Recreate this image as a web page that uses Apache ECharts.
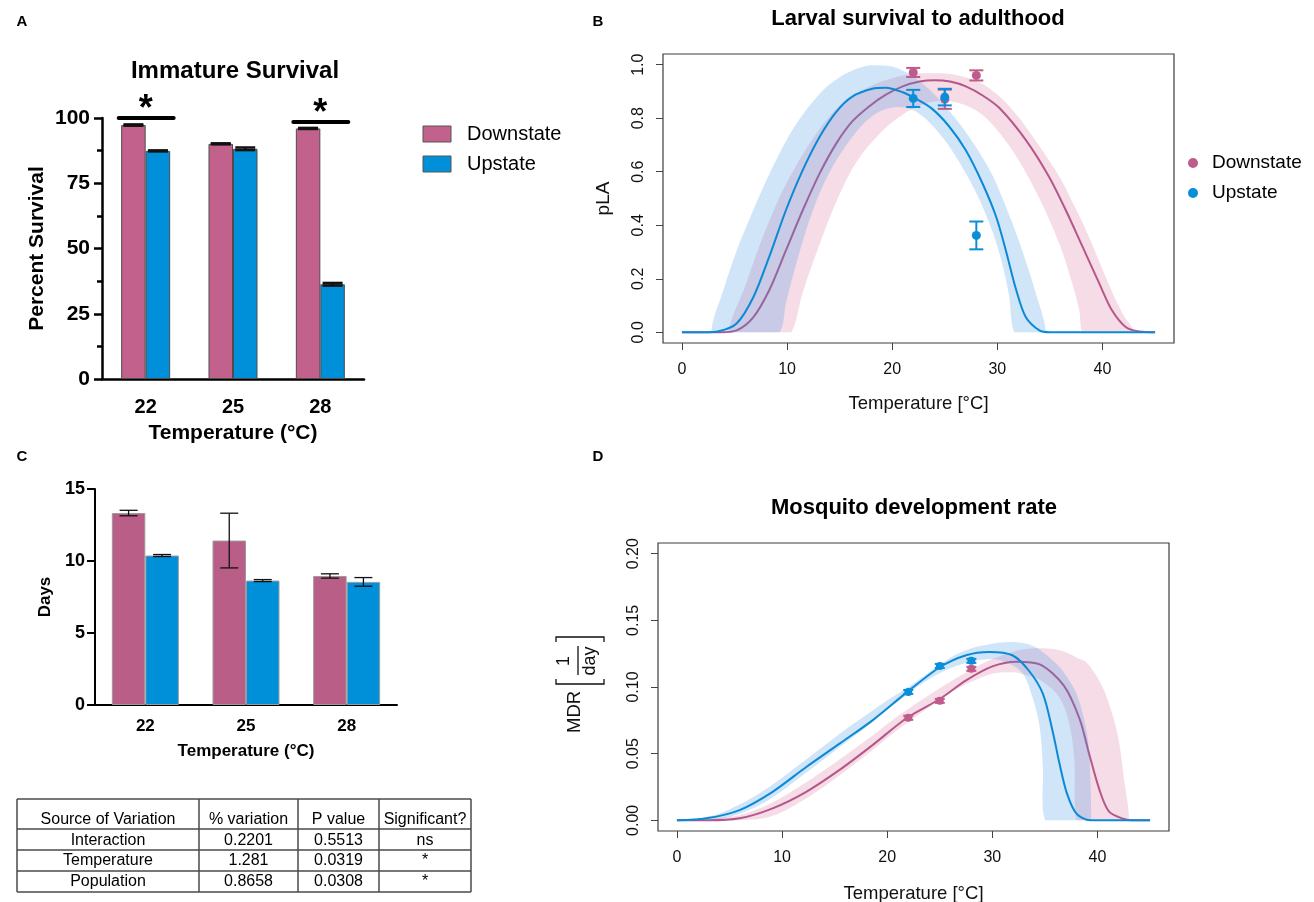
<!DOCTYPE html>
<html lang="en">
<head>
<meta charset="UTF-8">
<title>Immature survival and development</title>
<script src="https://cdn.jsdelivr.net/npm/echarts@6/dist/echarts.min.js"></script>
<style>html,body{margin:0;padding:0;background:#fff;}</style>
</head>
<body>
<div id="main" style="width:1314px;height:902px;"></div>
<script>
var FF = "'Liberation Sans', Arial, Helvetica, sans-serif";

// ---- A: immature survival (%)
var tempsA = ['22', '25', '28'];
var survDown = [97.3, 90.1, 96.0];
var survUp = [87.4, 88.2, 36.3];
var survDownErr = [0.25, 0.2, 0.2];
var survUpErr = [0.2, 0.5, 0.5];
var sigA = [[0, 100], [2, 98.5]]; // [category index, bracket height]

// ---- C: development time (days)
var tempsC = ['22', '25', '28'];
var daysDown = [13.33, 11.42, 8.96];
var daysUp = [10.38, 8.64, 8.55];
var daysDownErr = [0.19, 1.9, 0.15];
var daysUpErr = [0.07, 0.07, 0.3];

// ---- B: pLA, points [temp, mean, se]
var plaDownPts = [[22, 0.971, 0.017], [25, 0.871, 0.036], [28, 0.96, 0.019]];
var plaUpPts = [[22, 0.874, 0.032], [25, 0.879, 0.031], [28, 0.362, 0.052]];
var plaDownFit = [[0, 0], [3.7, 0], [5.2, 0.007], [6.8, 0.057], [8.3, 0.157], [9.9, 0.307], [11.5, 0.457],
  [13.1, 0.594], [14.7, 0.707], [16.2, 0.788], [17.8, 0.844], [19.4, 0.888], [21, 0.919], [22.6, 0.937],
  [24, 0.942], [25.5, 0.937], [27, 0.919], [28.6, 0.885], [30.2, 0.838], [32.7, 0.719], [34.9, 0.582],
  [36.5, 0.457], [38.1, 0.32], [39.7, 0.182], [40.9, 0.082], [42.2, 0.02], [43.5, 0.003], [45, 0]];
var plaUpFit = [[0, 0], [2, 0], [3.5, 0.004], [5.2, 0.033], [6.8, 0.132], [8.3, 0.282], [9.9, 0.457],
  [11.5, 0.607], [13.1, 0.731], [14.7, 0.825], [16.2, 0.881], [18.1, 0.91], [19.4, 0.914], [21, 0.897],
  [22.2, 0.874], [23.8, 0.835], [25.4, 0.77], [27, 0.68], [28.6, 0.555], [29.9, 0.43], [30.8, 0.307],
  [31.8, 0.157], [32.7, 0.057], [34, 0.007], [35, 0], [45, 0]];
// credible bands [temp, lower, upper]
var plaDownBand = [[4.5, 0, 0], [6.1, 0, 0.182], [7.7, 0, 0.357], [9.3, 0, 0.507], [10.4, 0, 0.59],
  [11.5, 0.15, 0.665], [13.1, 0.33, 0.76], [14.7, 0.49, 0.835], [16.5, 0.63, 0.89], [18.5, 0.73, 0.93],
  [20.5, 0.8, 0.955], [22.5, 0.845, 0.967], [24.5, 0.865, 0.968], [26.5, 0.855, 0.958], [28.5, 0.815, 0.93],
  [30.2, 0.745, 0.881], [32, 0.645, 0.805], [34, 0.5, 0.695], [36, 0.32, 0.575], [37.1, 0.185, 0.49],
  [37.8, 0.08, 0.435], [38.1, 0, 0.41], [39, 0, 0.33], [40.3, 0, 0.207], [41.9, 0, 0.07], [43, 0, 0]];
var plaUpBand = [[2.8, 0, 0], [4, 0, 0.165], [5.2, 0, 0.305], [6.5, 0, 0.43], [8, 0, 0.565], [9.3, 0, 0.67],
  [9.9, 0.11, 0.715], [10.9, 0.26, 0.78], [12.4, 0.45, 0.86], [14, 0.595, 0.925], [16, 0.72, 0.975],
  [18, 0.805, 0.998], [20, 0.84, 0.993], [22, 0.83, 0.955], [24, 0.765, 0.89], [26, 0.66, 0.8],
  [28, 0.52, 0.69], [29.5, 0.38, 0.59], [30.5, 0.25, 0.5], [31.1, 0.14, 0.44], [31.6, 0, 0.39],
  [32.5, 0, 0.29], [33.7, 0, 0.14], [34.6, 0, 0]];

// ---- D: MDR
var mdrDownPts = [[22, 0.0769, 0.0015], [25, 0.0896, 0.0015], [28, 0.1136, 0.0015]];
var mdrUpPts = [[22, 0.0963, 0.0015], [25, 0.1158, 0.0015], [28, 0.1196, 0.0015]];
var mdrDownFit = [[0, 0], [3, 0], [5.96, 0.0015], [9.1, 0.009], [12.3, 0.0214], [15.5, 0.038], [18.6, 0.0564],
  [21.8, 0.0764], [25, 0.091], [27.5, 0.105], [30, 0.1155], [32.3, 0.119], [34.5, 0.117], [36.8, 0.101],
  [38.3, 0.076], [39.2, 0.05], [40.2, 0.0225], [41.1, 0.0065], [42.5, 0.001], [43.3, 0], [45, 0]];
var mdrUpFit = [[0, 0], [2.8, 0.0015], [5.96, 0.0077], [9.1, 0.0214], [12.3, 0.04], [15.5, 0.0577],
  [18.6, 0.075], [21.8, 0.0956], [25, 0.1148], [27.5, 0.1238], [29.7, 0.1263], [31.9, 0.1238],
  [33.5, 0.112], [34.8, 0.095], [35.7, 0.068], [36.4, 0.042], [37.1, 0.02], [38, 0.005], [39.3, 0], [45, 0]];
var mdrDownBand = [[3, 0, 0.001], [6, 0, 0.004], [9, 0.003, 0.013], [12, 0.015, 0.027], [15, 0.031, 0.043],
  [18, 0.049, 0.06], [21, 0.068, 0.078], [24, 0.085, 0.094], [26, 0.096, 0.104], [28, 0.104, 0.113],
  [30, 0.11, 0.121], [32, 0.111, 0.1265], [33.2, 0.109, 0.1285], [34.8, 0.104, 0.129], [36.4, 0.092, 0.1276],
  [37.3, 0.073, 0.125], [37.8, 0.045, 0.123], [38, 0, 0.122], [38.9, 0, 0.1188], [40, 0, 0.107],
  [40.8, 0, 0.094], [41.9, 0, 0.065], [42.5, 0, 0.032], [43, 0, 0]];
var mdrUpBand = [[2, 0, 0.001], [4, 0.001, 0.005], [6, 0.005, 0.012], [8, 0.012, 0.021], [10, 0.022, 0.032],
  [12, 0.034, 0.044], [14, 0.046, 0.056], [16, 0.058, 0.068], [18, 0.07, 0.079], [20, 0.083, 0.09],
  [22, 0.095, 0.1], [24, 0.106, 0.111], [26, 0.114, 0.122], [28, 0.119, 0.129], [30, 0.121, 0.1325],
  [31.6, 0.1176, 0.1338], [32.9, 0.11, 0.133], [33.8, 0.0926, 0.131], [34.5, 0.07, 0.128], [34.8, 0.04, 0.126],
  [35, 0, 0.125], [36.4, 0, 0.115], [37.3, 0, 0.105], [38, 0, 0.095], [38.6, 0, 0.08], [39.1, 0, 0.06],
  [39.3, 0, 0.035], [39.4, 0, 0]];

// ---- table
var tableHead = ['Source of Variation', '% variation', 'P value', 'Significant?'];
var tableRows = [
  ['Interaction', '0.2201', '0.5513', 'ns'],
  ['Temperature', '1.281', '0.0319', '*'],
  ['Population', '0.8658', '0.0308', '*']
];

var pinkBar = '#C2628C', blueBar = '#0090D9', pinkBarC = '#B95E86';
var pinkLine = '#B5578A', blueLine = '#0A8AD6';
var pinkPt = '#C05C8C', bluePt = '#0A8ED8';
var pinkBand = 'rgba(222,125,162,0.27)', blueBand = 'rgba(60,145,225,0.24)';

function txt(t, x, y, size, weight, align, vAlign) {
  return { type: 'text', x: x, y: y, silent: true,
    style: { text: t, fontSize: size, fontWeight: weight || 'normal', fontFamily: FF, fill: '#000',
      textAlign: align || 'center', textVerticalAlign: vAlign || 'middle' } };
}

function barErr(vals, errs, offset, capHalf, color, lw, gi) {
  return {
    type: 'custom', xAxisIndex: gi, yAxisIndex: gi, z: 5, silent: true,
    data: vals.map(function (v, i) { return [i, v, errs[i]]; }),
    renderItem: function (params, api) {
      var hi = api.coord([api.value(0), api.value(1) + api.value(2)]);
      var lo = api.coord([api.value(0), api.value(1) - api.value(2)]);
      var x = hi[0] + offset;
      function st() { return { stroke: color, lineWidth: lw }; }
      return { type: 'group', children: [
        { type: 'line', shape: { x1: x, y1: lo[1], x2: x, y2: hi[1] }, style: st() },
        { type: 'line', shape: { x1: x - capHalf, y1: hi[1], x2: x + capHalf, y2: hi[1] }, style: st() },
        { type: 'line', shape: { x1: x - capHalf, y1: lo[1], x2: x + capHalf, y2: lo[1] }, style: st() }
      ] };
    }
  };
}

function pointSeries(pts, color, gi, capHalf, r) {
  return {
    type: 'custom', xAxisIndex: gi, yAxisIndex: gi, z: 6, silent: true, data: pts,
    renderItem: function (params, api) {
      var c = api.coord([api.value(0), api.value(1)]);
      var hi = api.coord([api.value(0), api.value(1) + api.value(2)]);
      var lo = api.coord([api.value(0), api.value(1) - api.value(2)]);
      function st() { return { stroke: color, lineWidth: 2 }; }
      return { type: 'group', children: [
        { type: 'line', shape: { x1: c[0], y1: lo[1], x2: c[0], y2: hi[1] }, style: st() },
        { type: 'line', shape: { x1: c[0] - capHalf, y1: hi[1], x2: c[0] + capHalf, y2: hi[1] }, style: st() },
        { type: 'line', shape: { x1: c[0] - capHalf, y1: lo[1], x2: c[0] + capHalf, y2: lo[1] }, style: st() },
        { type: 'circle', shape: { cx: c[0], cy: c[1], r: r }, style: { fill: color } }
      ] };
    }
  };
}

function fitLine(data, color, gi, z) {
  return { type: 'line', xAxisIndex: gi, yAxisIndex: gi, data: data, smooth: 0.3, symbol: 'none',
    z: z, silent: true, lineStyle: { color: color, width: 2 } };
}

// band drawn once as a closed polygon: upper edge left to right, lower edge back
function bandSeries(rows, color, gi, z) {
  return {
    type: 'custom', xAxisIndex: gi, yAxisIndex: gi, z: z, silent: true, clip: true, data: rows,
    renderItem: function (params, api) {
      if (params.dataIndex !== 0) return null;
      var pts = [];
      var i;
      for (i = 0; i < rows.length; i++) pts.push(api.coord([rows[i][0], rows[i][2]]));
      for (i = rows.length - 1; i >= 0; i--) {
        if (rows[i][1] !== rows[i][2]) pts.push(api.coord([rows[i][0], rows[i][1]]));
      }
      var minX = Infinity, minY = Infinity, maxX = -Infinity, maxY = -Infinity;
      pts.forEach(function (p) {
        minX = Math.min(minX, p[0]); maxX = Math.max(maxX, p[0]);
        minY = Math.min(minY, p[1]); maxY = Math.max(maxY, p[1]);
      });
      return { type: 'polygon',
        shape: { points: pts, smooth: 0.35, smoothConstraint: [[minX, minY], [maxX, maxY]] },
        style: { fill: color } };
    }
  };
}

// GraphPad style axes (A, C)
function gpCatAxis(gi, cats, lab, labMargin, name, nameSize, nameGap, lw) {
  return { gridIndex: gi, type: 'category', data: cats,
    axisLine: { lineStyle: { color: '#000', width: lw } },
    axisTick: { alignWithLabel: true, length: 8, lineStyle: { color: '#000', width: lw } },
    axisLabel: { fontSize: lab, fontWeight: 'bold', color: '#000', fontFamily: FF, margin: labMargin },
    splitLine: { show: false },
    name: name, nameLocation: 'middle', nameGap: nameGap,
    nameTextStyle: { fontSize: nameSize, fontWeight: 'bold', color: '#000', fontFamily: FF } };
}
function gpValAxis(gi, max, interval, lab, labMargin, name, nameSize, nameGap, lw, minor) {
  return { gridIndex: gi, type: 'value', min: 0, max: max, interval: interval,
    axisLine: { show: true, lineStyle: { color: '#000', width: lw } },
    axisTick: { show: true, length: 8, lineStyle: { color: '#000', width: lw } },
    minorTick: { show: minor, splitNumber: 2, length: 5, lineStyle: { color: '#000', width: lw } },
    axisLabel: { fontSize: lab, fontWeight: 'bold', color: '#000', fontFamily: FF, margin: labMargin },
    splitLine: { show: false },
    name: name, nameLocation: 'middle', nameGap: nameGap,
    nameTextStyle: { fontSize: nameSize, fontWeight: 'bold', color: '#000', fontFamily: FF } };
}

// R base-graphics style axes (B, D)
var tempTicks = [0, 10, 20, 30, 40];
function rTempAxis(gi, nameGap) {
  return { gridIndex: gi, type: 'value', min: -1.8, max: 46.8,
    axisLine: { show: false, onZero: false },
    axisTick: { show: true, customValues: tempTicks, length: 7, lineStyle: { color: '#444', width: 1 } },
    axisLabel: { customValues: tempTicks, fontSize: 16, color: '#111', fontFamily: FF, margin: 19 },
    splitLine: { show: false },
    name: 'Temperature [°C]', nameLocation: 'middle', nameGap: nameGap,
    nameTextStyle: { fontSize: 18.5, color: '#111', fontFamily: FF } };
}
function rValAxis(gi, min, max, ticks, digits, name, nameGap) {
  return { gridIndex: gi, type: 'value', min: min, max: max,
    axisLine: { show: false, onZero: false },
    axisTick: { show: true, customValues: ticks, length: 7, lineStyle: { color: '#444', width: 1 } },
    axisLabel: { customValues: ticks, rotate: 90, fontSize: 16, color: '#111', fontFamily: FF, margin: 16,
      formatter: function (v) { return v.toFixed(digits); } },
    splitLine: { show: false },
    name: name, nameLocation: 'middle', nameGap: nameGap,
    nameTextStyle: { fontSize: 19, color: '#111', fontFamily: FF } };
}

var barWA = 24.5, barWC = 33.5;

var series = [
  // A
  { type: 'bar', name: 'Downstate', xAxisIndex: 0, yAxisIndex: 0, data: survDown, barWidth: barWA, barGap: '0%',
    itemStyle: { color: pinkBar, borderColor: '#4d4d4d', borderWidth: 1 }, silent: true },
  { type: 'bar', name: 'Upstate', xAxisIndex: 0, yAxisIndex: 0, data: survUp, barWidth: barWA, barGap: '0%',
    itemStyle: { color: blueBar, borderColor: '#4d4d4d', borderWidth: 1 }, silent: true },
  barErr(survDown, survDownErr, -barWA / 2, 10, '#111', 2.5, 0),
  barErr(survUp, survUpErr, barWA / 2, 10, '#111', 2.5, 0),
  { type: 'custom', xAxisIndex: 0, yAxisIndex: 0, z: 6, silent: true, data: sigA,
    renderItem: function (params, api) {
      var c = api.coord([api.value(0), api.value(1)]);
      return { type: 'group', children: [
        { type: 'line', shape: { x1: c[0] - 27, y1: c[1], x2: c[0] + 28, y2: c[1] },
          style: { stroke: '#000', lineWidth: 4, lineCap: 'round' } },
        { type: 'text', x: c[0], y: c[1] - 8,
          style: { text: '*', fontSize: 36, fontWeight: 'bold', fontFamily: FF, fill: '#000',
            textAlign: 'center', textVerticalAlign: 'middle' } }
      ] };
    } },
  // C
  { type: 'bar', name: 'Downstate', xAxisIndex: 2, yAxisIndex: 2, data: daysDown, barWidth: barWC, barGap: '0%',
    itemStyle: { color: pinkBarC, borderColor: '#9b9b9b', borderWidth: 1 }, silent: true },
  { type: 'bar', name: 'Upstate', xAxisIndex: 2, yAxisIndex: 2, data: daysUp, barWidth: barWC, barGap: '0%',
    itemStyle: { color: blueBar, borderColor: '#9b9b9b', borderWidth: 1 }, silent: true },
  barErr(daysDown, daysDownErr, -barWC / 2, 9, '#111', 1.3, 2),
  barErr(daysUp, daysUpErr, barWC / 2, 9, '#111', 1.3, 2),
  // B
  bandSeries(plaDownBand, pinkBand, 1, 1),
  fitLine(plaDownFit, pinkLine, 1, 2),
  bandSeries(plaUpBand, blueBand, 1, 3),
  fitLine(plaUpFit, blueLine, 1, 4),
  pointSeries(plaDownPts, pinkPt, 1, 7, 4.5),
  pointSeries(plaUpPts, bluePt, 1, 7, 4.5),
  // D
  bandSeries(mdrDownBand, pinkBand, 3, 1),
  fitLine(mdrDownFit, pinkLine, 3, 2),
  bandSeries(mdrUpBand, blueBand, 3, 3),
  fitLine(mdrUpFit, blueLine, 3, 4),
  pointSeries(mdrDownPts, pinkPt, 3, 5, 4),
  pointSeries(mdrUpPts, bluePt, 3, 5, 4)
];

// annotations, legends and the table
var graphics = [
  txt('A', 22, 22, 15, 'bold'), txt('B', 598, 22, 15, 'bold'),
  txt('C', 22, 457, 15, 'bold'), txt('D', 598, 457, 15, 'bold'),
  txt('Immature Survival', 235, 71, 24, 'bold'),
  txt('Larval survival to adulthood', 918, 19, 22, 'bold'),
  txt('Mosquito development rate', 914, 508, 22, 'bold'),
  // legend A
  { type: 'rect', shape: { x: 423, y: 126, width: 28, height: 16 }, style: { fill: pinkBar, stroke: '#555', lineWidth: 1 } },
  { type: 'rect', shape: { x: 423, y: 156, width: 28, height: 16 }, style: { fill: blueBar, stroke: '#555', lineWidth: 1 } },
  txt('Downstate', 467, 134, 20, 'normal', 'left'),
  txt('Upstate', 467, 164, 20, 'normal', 'left'),
  // legend B
  { type: 'circle', shape: { cx: 1193, cy: 163, r: 5 }, style: { fill: pinkPt } },
  { type: 'circle', shape: { cx: 1193, cy: 193, r: 5 }, style: { fill: bluePt } },
  txt('Downstate', 1212, 163, 19, 'normal', 'left'),
  txt('Upstate', 1212, 193, 19, 'normal', 'left'),
  // MDR [1/day] axis title
  { type: 'group', x: 575, y: 733, rotation: Math.PI / 2, silent: true, children: [
    { type: 'text', x: 0, y: 0, style: { text: 'MDR', fontSize: 18.5, fontFamily: FF, fill: '#111', textAlign: 'left', textVerticalAlign: 'middle' } },
    { type: 'polyline', shape: { points: [[54, -19], [49, -19], [49, 29], [54, 29]] }, style: { stroke: '#111', lineWidth: 1.3, fill: null } },
    { type: 'text', x: 72, y: -11, style: { text: '1', fontSize: 18, fontFamily: FF, fill: '#111', textAlign: 'center', textVerticalAlign: 'middle' } },
    { type: 'line', shape: { x1: 58, y1: 3, x2: 87, y2: 3 }, style: { stroke: '#111', lineWidth: 1.3 } },
    { type: 'text', x: 72, y: 15, style: { text: 'day', fontSize: 18, fontFamily: FF, fill: '#111', textAlign: 'center', textVerticalAlign: 'middle' } },
    { type: 'polyline', shape: { points: [[91, -19], [96, -19], [96, 29], [91, 29]] }, style: { stroke: '#111', lineWidth: 1.3, fill: null } }
  ] }
];

var colX = [17, 199, 298, 379, 471];
var rowY = [799, 829, 850, 871, 892];
var rowTextY = [820, 840.5, 861, 881.5];
colX.forEach(function (x) {
  graphics.push({ type: 'line', shape: { x1: x, y1: rowY[0], x2: x, y2: rowY[rowY.length - 1] }, style: { stroke: '#4a4a4a', lineWidth: 1.5 } });
});
rowY.forEach(function (y) {
  graphics.push({ type: 'line', shape: { x1: colX[0], y1: y, x2: colX[colX.length - 1], y2: y }, style: { stroke: '#4a4a4a', lineWidth: 1.5 } });
});
[tableHead].concat(tableRows).forEach(function (row, r) {
  row.forEach(function (cell, c) {
    graphics.push(txt(cell, (colX[c] + colX[c + 1]) / 2, rowTextY[r], 16, 'normal'));
  });
});

var option = {
  animation: false,
  backgroundColor: '#fff',
  textStyle: { fontFamily: FF },
  grid: [
    { left: 102, top: 118, width: 262, height: 261, outerBoundsMode: 'none' },
    { left: 663, top: 54, width: 511, height: 289, show: true, borderColor: '#3c3c3c', borderWidth: 1.2, outerBoundsMode: 'none' },
    { left: 95, top: 489, width: 302, height: 216, outerBoundsMode: 'none' },
    { left: 658, top: 543, width: 511, height: 288, show: true, borderColor: '#3c3c3c', borderWidth: 1.2, outerBoundsMode: 'none' }
  ],
  xAxis: [
    gpCatAxis(0, tempsA, 20, 18, 'Temperature (°C)', 21, 44, 2.5),
    rTempAxis(1, 51),
    gpCatAxis(2, tempsC, 17, 13, 'Temperature (°C)', 17, 38, 2),
    rTempAxis(3, 53)
  ],
  yAxis: [
    gpValAxis(0, 100, 25, 21, 12, 'Percent Survival', 21, 54, 2.5, true),
    rValAxis(1, -0.04, 1.04, [0, 0.2, 0.4, 0.6, 0.8, 1.0], 1, 'pLA', 50),
    gpValAxis(2, 15, 5, 18, 10, 'Days', 17, 41, 2, false),
    rValAxis(3, -0.008, 0.208, [0, 0.05, 0.1, 0.15, 0.2], 2, '', 50)
  ],
  series: series,
  graphic: { elements: graphics }
};

var chart = echarts.init(document.getElementById('main'));
chart.setOption(option);
</script>
</body>
</html>
